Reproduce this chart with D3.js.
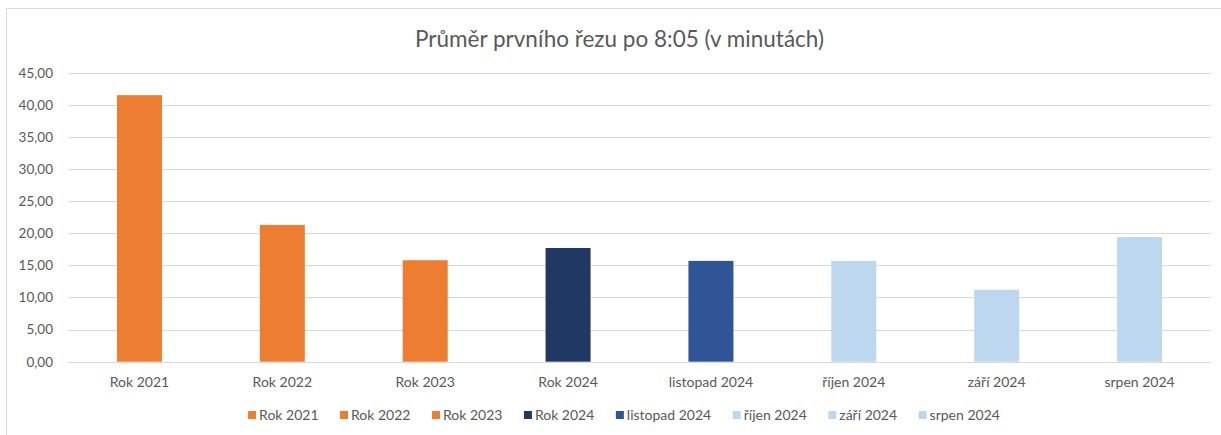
<!DOCTYPE html>
<html>
<head>
<meta charset="utf-8">
<script src="https://cdn.jsdelivr.net/npm/d3@7"></script>
<style>
  html, body { margin: 0; padding: 0; background: #fff; }
  svg { display: block; }
  text { font-family: Lato, "Open Sans", sans-serif; fill: #595959; }
</style>
</head>
<body>
<svg id="chart" width="1221" height="435"></svg>
<script>
const categories = ["Rok 2021", "Rok 2022", "Rok 2023", "Rok 2024", "listopad 2024", "říjen 2024", "září 2024", "srpen 2024"];
const values = [41.5, 21.3, 15.8, 17.7, 15.7, 15.7, 11.2, 19.4];
const colors = ["#ED7D31", "#ED7D31", "#ED7D31", "#203864", "#2F5597", "#BDD7EE", "#BDD7EE", "#BDD7EE"];
const yTicks = [0, 5, 10, 15, 20, 25, 30, 35, 40, 45];
const title = "Průměr prvního řezu po 8:05 (v minutách)";

const svg = d3.select("#chart");
const W = 1221, H = 435;
const plotL = 68, plotR = 1211, plotT = 72.7, plotB = 361.7;

// chart border
svg.append("rect").attr("x", 6.5).attr("y", 8.5).attr("width", W + 10).attr("height", H + 10)
  .attr("fill", "none").attr("stroke", "#d9d9d9").attr("stroke-width", 1);

const x = d3.scaleBand().domain(categories).range([plotL, plotR]).paddingInner(0).paddingOuter(0);
const y = d3.scaleLinear().domain([0, 45]).range([plotB, plotT]);
const locale = d3.formatLocale({ decimal: ",", thousands: " ", grouping: [3], currency: ["", " Kč"] });
const fmt = locale.format(".2f");

// gridlines
const grid = svg.append("g");
grid.selectAll("line").data(yTicks).join("line")
  .attr("x1", plotL).attr("x2", plotR)
  .attr("y1", d => Math.round(y(d)) + 0.5).attr("y2", d => Math.round(y(d)) + 0.5)
  .attr("stroke", "#d9d9d9").attr("stroke-width", 1);

// y axis labels
const yAxis = d3.axisLeft(y).tickValues(yTicks).tickFormat(fmt).tickSize(0).tickPadding(0);
const gy = svg.append("g").attr("transform", `translate(${53},0)`).call(yAxis);
gy.select(".domain").remove();
gy.selectAll("text").attr("font-size", 13.5).attr("fill", "#595959")
  .style("font-family", "Lato, 'Open Sans', sans-serif");

// bars
const barFrac = 0.315;
svg.append("g").selectAll("rect").data(categories).join("rect")
  .attr("x", (d) => x(d) + x.bandwidth() * (1 - barFrac) / 2)
  .attr("width", x.bandwidth() * barFrac)
  .attr("y", (d, i) => y(values[i]))
  .attr("height", (d, i) => y(0) - y(values[i]))
  .attr("fill", (d, i) => colors[i]);

// x axis
const xAxis = d3.axisBottom(x).tickSize(0).tickPadding(0);
const gx = svg.append("g").attr("transform", `translate(0,${plotB + 20})`).call(xAxis);
gx.select(".domain").remove();
gx.selectAll("text").attr("font-size", 14).attr("fill", "#595959").attr("dy", "0.35em")
  .style("font-family", "Lato, 'Open Sans', sans-serif");
// baseline axis line
svg.append("line").attr("x1", plotL).attr("x2", plotR)
  .attr("y1", Math.round(plotB) + 0.5).attr("y2", Math.round(plotB) + 0.5)
  .attr("stroke", "#d9d9d9");

// title
svg.append("text").attr("x", 619.5).attr("y", 47).attr("text-anchor", "middle")
  .attr("font-size", 22.5).attr("fill", "#595959").text(title);

// legend
const lg = svg.append("g");
const items = lg.selectAll("g").data(categories).join("g");
items.append("rect").attr("width", 8).attr("height", 8).attr("y", -4)
  .attr("fill", (d, i) => colors[i]);
items.append("text").attr("x", 11).attr("dy", "0.35em").attr("font-size", 14).text(d => d);
let cx = 0;
const pos = [];
const gap = 21.5;
items.each(function () {
  const tw = d3.select(this).select("text").node().getComputedTextLength();
  pos.push(cx);
  cx += 11 + tw + gap;
});
const totalW = cx - gap;
const startX = 624 - totalW / 2;
items.attr("transform", (d, i) => `translate(${startX + pos[i]},${415})`);
</script>
</body>
</html>
